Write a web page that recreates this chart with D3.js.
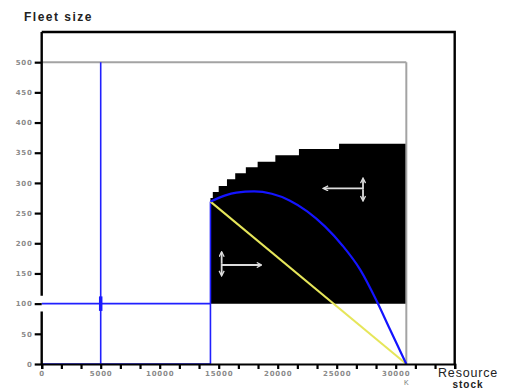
<!DOCTYPE html>
<meta charset="utf-8">
<style>
body { margin: 0; background: #fff; }
.tick text { fill: #8a8a8a; font-family: "DejaVu Sans", sans-serif; font-size: 7px; font-weight: bold; letter-spacing: 0.8px; }
.lbl { font-family: "Liberation Sans", Arial, sans-serif; fill: #222; }
</style>
<body>
<script src="https://cdn.jsdelivr.net/npm/d3@7"></script>
<script>

// axis set-up
var xMax = 35000, yMax = 550;
var xMajor = [0, 5000, 10000, 15000, 20000, 25000, 30000];
var yTicks = [0, 50, 100, 150, 200, 250, 300, 350, 400, 450, 500];
var K = 30900;

// stepped black region (stock, upper fleet bound), floor at fleet 100
var stepStock = [14300, 14500, 15000, 15700, 16400, 17300, 18300, 19800, 21800, 25200, 30900];
var stepFleet = [275, 285, 295, 306, 316, 326, 335, 346, 356, 365, 365];
var regionFloor = 100;

// blue equilibrium curve
var curveStock = [14300, 15500, 16500, 18000, 19500, 21000, 22500, 24000, 25500, 27000, 28400, 29500, 30900];
var curveFleet = [269, 279, 284, 286, 282, 271, 253, 228, 196, 156, 104, 58, 0];

// yellow line
var yellowStock = [14300, 30900];
var yellowFleet = [269, 0];

// blue path lines (stock, fleet)
var bluePaths = [
  [[5000, 500], [5000, 0]],
  [[0, 100], [14300, 100]],
  [[0, 0], [14300, 0]],
  [[14300, 0], [14300, 269]]
];

// grey capacity lines
var greyPaths = [
  [[0, 500], [K, 500]],
  [[K, 500], [K, 0]]
];

// arrows [from, to]
var arrows = [
  [[27230, 291], [23900, 291]],
  [[27230, 289], [27230, 307]],
  [[27230, 289], [27230, 271]],
  [[15250, 164], [18600, 164]],
  [[15250, 166], [15250, 185]],
  [[15250, 166], [15250, 147]]
];

var width = 505, height = 390;

var x = d3.scaleLinear().domain([0, xMax]).range([41.7, 454.7]);
var y = d3.scaleLinear().domain([0, yMax]).range([364, 32]);

var svg = d3.select("body").append("svg")
    .attr("width", width)
    .attr("height", height);

var defs = svg.append("defs");
defs.append("marker")
    .attr("id", "head")
    .attr("viewBox", "0 0 10 10")
    .attr("refX", 8).attr("refY", 5)
    .attr("markerWidth", 3.5).attr("markerHeight", 3.5)
    .attr("orient", "auto-start-reverse")
  .append("path")
    .attr("d", "M1,1 L9,5 L1,9")
    .attr("fill", "none")
    .attr("stroke", "#ddd")
    .attr("stroke-width", 2);

var line = d3.line()
    .x(function(d) { return x(d[0]); })
    .y(function(d) { return y(d[1]); });

// black region
var stepData = stepStock.map(function(s, i) { return [s, stepFleet[i]]; });
svg.append("path")
    .datum(stepData)
    .attr("fill", "#000")
    .attr("d", d3.area()
      .curve(d3.curveStepAfter)
      .x(function(d) { return x(d[0]); })
      .y0(y(regionFloor))
      .y1(function(d) { return y(d[1]); }));

// grey lines
greyPaths.forEach(function(p) {
  svg.append("path").datum(p)
      .attr("d", line)
      .attr("fill", "none")
      .attr("stroke", "#a3a3a3")
      .attr("stroke-width", 2);
});

// blue lines
bluePaths.forEach(function(p) {
  svg.append("path").datum(p)
      .attr("d", line)
      .attr("fill", "none")
      .attr("stroke", "#2020ff")
      .attr("stroke-width", 1.6);
});
// small thick blob at (5000, 100)
svg.append("path").datum([[5000, 88], [5000, 112]])
    .attr("d", line)
    .attr("stroke", "#1a1aff")
    .attr("stroke-width", 3.5);

// yellow line
svg.append("path")
    .datum(yellowStock.map(function(s, i) { return [s, yellowFleet[i]]; }))
    .attr("d", line)
    .attr("fill", "none")
    .attr("stroke", "#e6e65a")
    .attr("stroke-width", 2);

// blue curve
var smooth = d3.line()
    .curve(d3.curveMonotoneX)
    .x(function(d) { return x(d[0]); })
    .y(function(d) { return y(d[1]); });
svg.append("path")
    .datum(curveStock.map(function(s, i) { return [s, curveFleet[i]]; }))
    .attr("d", smooth)
    .attr("fill", "none")
    .attr("stroke", "#1414ff")
    .attr("stroke-width", 2.2);

// arrows
arrows.forEach(function(a) {
  svg.append("path").datum(a)
      .attr("d", line)
      .attr("stroke", "#ddd")
      .attr("stroke-width", 1.8)
      .attr("marker-end", "url(#head)");
});

// x axis
var xTickVals = d3.range(0, xMax + 1, 5000 / 3);
var xAxis = svg.append("g")
    .attr("transform", "translate(0," + y(0) + ")")
    .call(d3.axisBottom(x).tickValues(xTickVals).tickSize(5).tickPadding(2)
      .tickFormat(function(d) {
        var r = Math.round(d);
        return xMajor.indexOf(r) >= 0 ? r : "";
      }));
xAxis.select(".domain").attr("stroke-width", 2.2);
xAxis.selectAll(".tick line").attr("stroke-width", 2.2);

// y axis
var yAxis = svg.append("g")
    .attr("transform", "translate(" + x(0) + ",0)")
    .call(d3.axisLeft(y).tickValues(yTicks).tickSize(7).tickPadding(2).tickSizeOuter(0));
yAxis.select(".domain").remove();
yAxis.selectAll(".tick line").attr("stroke-width", 2.2);
// y axis line has a gap around fleet = 100
[[[0, 0], [0, 87]], [[0, 113], [0, yMax]]].forEach(function(p) {
  svg.append("path").datum(p)
      .attr("d", line)
      .attr("stroke", "#000")
      .attr("stroke-width", 2.4);
});

// frame top and right
svg.append("path")
    .datum([[0, yMax], [xMax, yMax], [xMax, 0]])
    .attr("d", line)
    .attr("fill", "none")
    .attr("stroke", "#000")
    .attr("stroke-width", 2.4);

// labels
svg.append("text").attr("class", "lbl")
    .attr("x", 24).attr("y", 21)
    .style("font-size", "12px").style("font-weight", "bold").style("letter-spacing", "1.5px")
    .text("Fleet size");

svg.append("text").attr("class", "lbl")
    .attr("x", 468).attr("y", 377)
    .attr("text-anchor", "middle")
    .style("font-size", "12.5px").style("letter-spacing", "0.8px")
    .text("Resource");
svg.append("text").attr("class", "lbl")
    .attr("x", 468).attr("y", 388)
    .attr("text-anchor", "middle")
    .style("font-size", "10px").style("font-weight", "bold").style("letter-spacing", "1px")
    .text("stock");

svg.append("text").attr("class", "lbl")
    .attr("x", x(K)).attr("y", 385)
    .attr("text-anchor", "middle")
    .style("font-size", "7px").style("fill", "#777")
    .text("K");

</script>
</body>
